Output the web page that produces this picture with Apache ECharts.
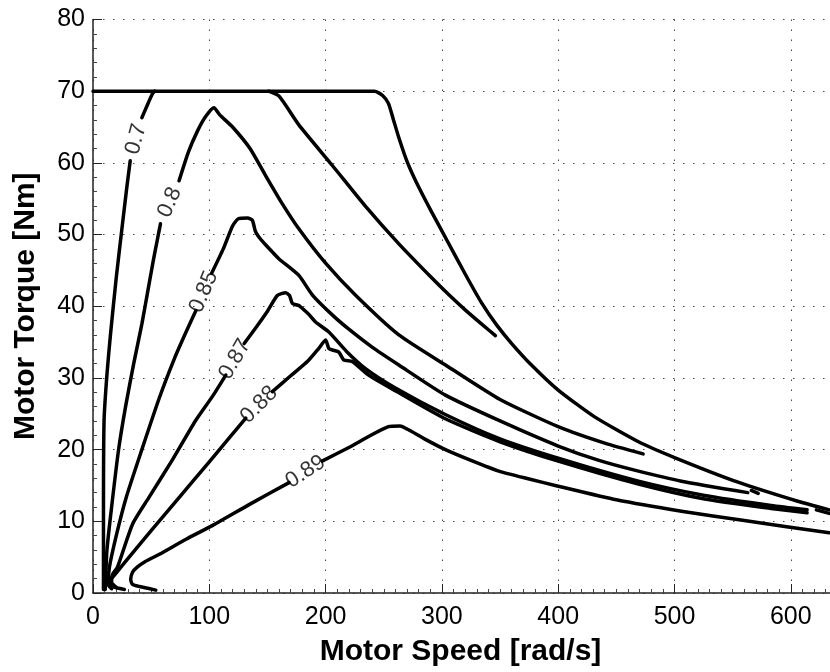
<!DOCTYPE html>
<html>
<head>
<meta charset="utf-8">
<title>Motor efficiency map</title>
<script src="https://cdn.jsdelivr.net/npm/echarts@6/dist/echarts.min.js"></script>
<style>
  html, body { margin: 0; padding: 0; background: #fff; }
  #main { width: 830px; height: 672px; }
</style>
</head>
<body>
<div id="main"></div>
<script>
// torque limit envelope
var envelope = [[0,70],[242,70],[249,69.4],[254,68.3],[258,66.2],[263,63.5],[270,60.2],[278,57.3],[291,53.2],[305,49],[320,44.5],[334,40.5],[347,37.4],[360,34.8],[377,31.8],[400,28.3],[431,24.6],[469,21.1],[500,18.9],[554,15.5],[606,12.8],[633,11.6]];

// efficiency contours, each split where its label sits
var c70low = [[9,0.5],[9,10],[9.5,24],[12,30.5],[15,36],[20,44],[25,51],[29,56.5],[32,60.3]];
var c70high = [[42,66.3],[46,67.8],[51,69.6],[53,70]];
var c70right = [[151,70],[160,69.3],[177,65.3],[206,59.6],[234,54],[263,48.7],[291,44],[306,41.6],[320,39.5],[335,37.4],[346,35.9]];

var c80low = [[10.5,0.5],[12,6],[16,12],[22,20],[28,26],[35,32],[42,37.5],[47,42],[52,46.5],[55,49],[58,51.5]];
var c80high = [[74,57.5],[82,61.5],[90,64.5],[97,66.5],[104,67.7],[109,66.7],[120,65],[135,62],[148.5,58.2],[162,54.5],[177,50.8],[200,46],[226,41.5],[263,36],[306,31.5],[350,27],[400,23.2],[440,20.9],[473,19.4]];

var c85low = [[16,0.6],[13,1.2],[14,3.5],[20,8],[28.5,13.3],[42,20],[57,27.2],[70,32.7],[80,36.4],[88.5,39.4]];
var c85high = [[102,44.6],[112,48],[120,51.2],[125,52.2],[133,52.3],[137,52],[139.5,50.5],[142,49.8],[145,49.2],[150,48.3],[160,46.6],[177,44.3],[188.5,41.6],[205.7,38.8],[220,36.8],[240,34.3],[263,31.8],[303,27.6],[350,24],[400,20.5],[435,18.5],[469,17],[506,15.6],[563,14]];

var c87low = [[20,0.8],[16,1.5],[16.5,2.5],[21,3.6],[34,9.6],[48,13.3],[68,18.5],[88,24],[103,27.5],[114.2,30.4]];
var c87high = [[130,34.8],[140,37],[150,39.3],[158.5,41.5],[165.7,41.9],[169,41.5],[171.4,40.4],[177,40.1],[182,39.4],[186,38.8],[191.4,37.8],[202.8,36.4],[218,33.7],[234.3,31.3],[260,28.6],[302.9,24.9],[350,21.5],[400,18.8],[469,15.6],[526,13.6],[583,12.2],[614,11.6]];

var c88low = [[27,0.5],[17,0.9],[15,1.7],[20,2.8],[30,4.8],[50,8.7],[74,13.3],[100,18.3],[131.4,24.4]];
var c88high = [[154.2,28.1],[170,30.3],[185,32.4],[194,34.1],[200,35.3],[202.8,34.1],[206,33.9],[211.4,33.6],[215.7,32.5],[222.8,32.3],[237,30.4],[260,28.2],[302.9,24.3],[350,21.1],[400,18.4],[469,15.2],[526,13.1],[583,11.8],[614,11.2]];

var c89low = [[54,0.4],[40,0.9],[34,1.2],[32.4,1.9],[34,2.9],[38,3.6],[45,4.4],[57,5.4],[80,7.5],[102.5,9.4],[135,12.4],[168.6,15.4]];
var c89high = [[197,18.4],[220,20.3],[254,23.2],[264,23.3],[271,22.8],[285,21.5],[303,20],[325,18.5],[349,17],[375,15.9],[400,14.9],[450,13],[506,11.4],[560,10.1],[633,8.4]];

// short contour pieces left near the envelope
var fragments = [[[566,14.3],[572,13.9]], [[622,11.6],[633,11.1]]];

var levels = ['0.7', '0.8', '0.85', '0.87', '0.88', '0.89'];
var labelGaps = [[c70low, c70high], [c80low, c80high], [c85low, c85high], [c87low, c87high], [c88low, c88high], [c89low, c89high]];

var font = 'Liberation Sans, Arial, Helvetica, sans-serif';

function lineSeries(data) {
  return {
    type: 'line',
    data: data,
    showSymbol: false,
    symbol: 'none',
    silent: true,
    smooth: 0.2,
    lineStyle: { color: '#000', width: 3.5, join: 'round', cap: 'round' },
    z: 3
  };
}

var pieces = [envelope, c70low, c70high, c70right, c80low, c80high, c85low, c85high,
  c87low, c87high, c88low, c88high, c89low, c89high].concat(fragments);

var chartDom = document.getElementById('main');
var myChart = echarts.init(chartDom, null, { renderer: 'canvas' });
var option = {
  animation: false,
  backgroundColor: '#fff',
  // right edge runs just past the canvas, the frame is cut off there
  grid: { left: 93, right: -2, top: 19.5, bottom: 76.5, containLabel: false },
  xAxis: {
    type: 'value',
    min: 0,
    max: 633.7,
    interval: 100,
    name: 'Motor Speed [rad/s]',
    nameLocation: 'middle',
    nameGap: 44,
    nameTextStyle: { fontFamily: font, fontWeight: 'bold', fontSize: 30, color: '#000', padding: [0, 0, 0, -2] },
    axisLine: { show: true, lineStyle: { color: '#222', width: 1.5 } },
    axisTick: { show: true, inside: true, length: 9, lineStyle: { color: '#222' } },
    minorTick: { show: true, splitNumber: 10, length: 4, lineStyle: { color: '#444' } },
    axisLabel: { fontFamily: font, fontSize: 25, color: '#000', margin: 12, showMaxLabel: false },
    splitLine: { show: true, lineStyle: { color: '#444', width: 1, type: [1.5, 8.5] } }
  },
  yAxis: {
    type: 'value',
    min: 0,
    max: 80,
    interval: 10,
    name: 'Motor Torque [Nm]',
    nameLocation: 'middle',
    nameGap: 52,
    nameTextStyle: { fontFamily: font, fontWeight: 'bold', fontSize: 30, color: '#000' },
    axisLine: { show: true, lineStyle: { color: '#222', width: 1.5 } },
    axisTick: { show: true, inside: true, length: 9, lineStyle: { color: '#222' } },
    minorTick: { show: true, splitNumber: 5, length: 4, lineStyle: { color: '#444' } },
    axisLabel: { fontFamily: font, fontSize: 25, color: '#000', margin: 8 },
    splitLine: { show: true, lineStyle: { color: '#444', width: 1, type: [1.5, 8.5] } }
  },
  series: pieces.map(lineSeries)
};
myChart.setOption(option);

// contour labels sit in the gap between the two pieces, turned along the line
var labelData = levels.map(function (lv, i) {
  var a = labelGaps[i][0][labelGaps[i][0].length - 1];
  var b = labelGaps[i][1][0];
  var pa = myChart.convertToPixel({ gridIndex: 0 }, a);
  var pb = myChart.convertToPixel({ gridIndex: 0 }, b);
  var ang = Math.atan2(pa[1] - pb[1], pb[0] - pa[0]) * 180 / Math.PI;
  return {
    value: [(a[0] + b[0]) / 2, (a[1] + b[1]) / 2],
    label: { formatter: lv, rotate: ang }
  };
});

myChart.setOption({
  series: option.series.concat([{
    type: 'scatter',
    data: labelData,
    symbolSize: 0,
    silent: true,
    z: 5,
    label: {
      show: true,
      position: 'inside',
      align: 'center',
      verticalAlign: 'middle',
      fontFamily: font,
      fontSize: 22,
      color: '#000'
    }
  }])
});
</script>
</body>
</html>
